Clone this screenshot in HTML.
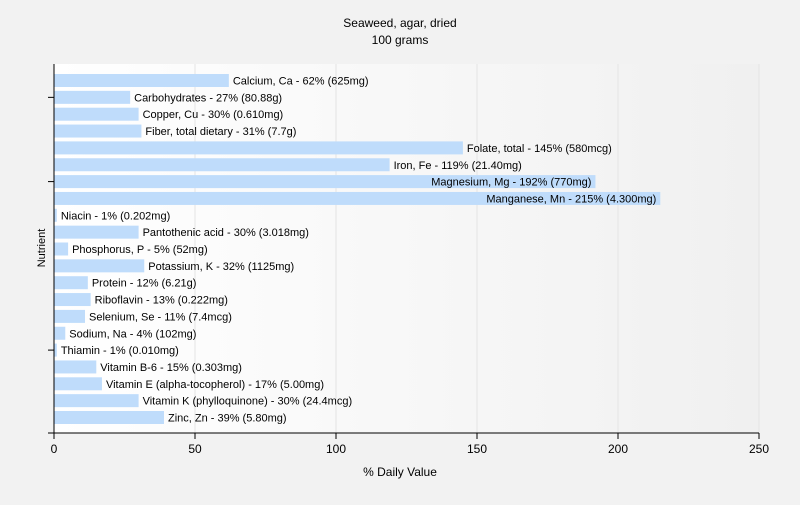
<!DOCTYPE html>
<html><head><meta charset="utf-8"><style>
body{margin:0;background:#f2f2f2;font-family:"Liberation Sans",sans-serif}
svg text{font-family:"Liberation Sans",sans-serif}
</style></head><body>
<svg width="800" height="500" id="c">
<defs><linearGradient id="bg" x1="0" x2="1"><stop offset="0" stop-color="#ffffff"/><stop offset="1" stop-color="#f0f0f0"/></linearGradient></defs>
<rect width="800" height="500" fill="#f2f2f2"/>
<text x="400" y="27" font-size="12" text-anchor="middle">Seaweed, agar, dried</text>
<text x="400" y="44" font-size="12" text-anchor="middle">100 grams</text>
<rect x="54" y="64" width="705" height="369" fill="url(#bg)"/>
<g id="grid"></g><g id="bars"></g>
<line x1="54" y1="64" x2="54" y2="433" stroke="#000"/>
<line x1="48" y1="433" x2="759" y2="433" stroke="#000"/>
<g id="ticks"></g>
<text x="400" y="476" font-size="12" text-anchor="middle">% Daily Value</text>
<text x="45" y="248" font-size="11" text-anchor="middle" transform="rotate(-90 45 248)">Nutrient</text>
</svg>
<script>
const categories=["Calcium, Ca","Carbohydrates","Copper, Cu","Fiber, total dietary","Folate, total","Iron, Fe","Magnesium, Mg","Manganese, Mn","Niacin","Pantothenic acid","Phosphorus, P","Potassium, K","Protein","Riboflavin","Selenium, Se","Sodium, Na","Thiamin","Vitamin B-6","Vitamin E (alpha-tocopherol)","Vitamin K (phylloquinone)","Zinc, Zn"];
const values=[62,27,30,31,145,119,192,215,1,30,5,32,12,13,11,4,1,15,17,30,39];
const amounts=["625mg","80.88g","0.610mg","7.7g","580mcg","21.40mg","770mg","4.300mg","0.202mg","3.018mg","52mg","1125mg","6.21g","0.222mg","7.4mcg","102mg","0.010mg","0.303mg","5.00mg","24.4mcg","5.80mg"];
const xTicks=[0,50,100,150,200,250];
const NS="http://www.w3.org/2000/svg";
const x=v=>54+v*705/250;
const yc=i=>80.5+i*16.85;
function mk(t,a,p){const e=document.createElementNS(NS,t);for(const k in a)e.setAttribute(k,a[k]);p.appendChild(e);return e;}
const grid=document.getElementById('grid'),bars=document.getElementById('bars'),ticks=document.getElementById('ticks');
xTicks.forEach(t=>{
 if(t>0){const g=mk('line',{x1:x(t),x2:x(t),y1:64,y2:433,stroke:'#e4e4e4'},grid);
 
 }
 const l=mk('line',{x1:x(t),x2:x(t),y1:433,y2:439,stroke:'#000'},ticks);
 
 
 const tx=mk('text',{x:x(t),y:453,'font-size':12,'text-anchor':'middle'},ticks);tx.textContent=t;
 
 
});
[1,6,16].forEach(i=>{const l=mk('line',{x1:48,x2:54,y1:yc(i),y2:yc(i),stroke:'#000'},ticks);
 
 });
categories.forEach((c,i)=>{
 const r=mk('rect',{x:54,y:yc(i)-6.5,width:x(values[i])-54,height:13,fill:'#bfdcfb'},bars);
 
 
 const end=x(values[i]);
 const t=mk('text',{x:end+4,y:yc(i)+4,'font-size':11,'textLength':0},bars);
 t.removeAttribute('textLength');
 t.textContent=c+' - '+values[i]+'% ('+amounts[i]+')';
 
 
 const w=t.getComputedTextLength();
 if(end+4+w>759){t.setAttribute('x',end-4);t.setAttribute('text-anchor','end');}
});
</script>
</body></html>
